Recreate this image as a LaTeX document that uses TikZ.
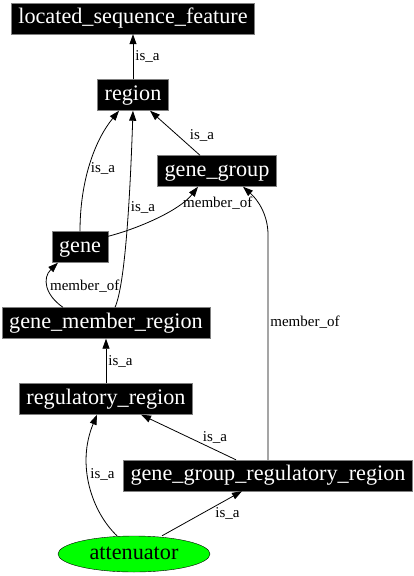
\documentclass[tikz,border=0pt]{standalone}
\usepackage{fontspec}
\setmainfont{Liberation Serif}
\usetikzlibrary{arrows.meta,shapes.geometric}

\begin{document}
\begin{tikzpicture}[x=1pt,y=-1pt,
  term/.style={fill=black,draw=gray,text=white,font=\fontsize{22.2}{25}\selectfont,
    inner xsep=7pt,inner ysep=0pt,minimum height=31pt,text height=15pt,text depth=5pt},
  rel/.style={draw=black,line width=0.8pt,-{Triangle[length=10pt,width=7pt]}},
  lbl/.style={font=\fontsize{15}{17}\selectfont,inner sep=2pt}]
\useasboundingbox (0,0) rectangle (414,576);

\node[term] (lsf) at (133,18.5) {located\_sequence\_feature};
\node[term] (region) at (133,95) {region};
\node[term] (genegroup) at (217,171) {gene\_group};
\node[term] (gene) at (80,247) {gene};
\node[term] (gmr) at (106,323) {gene\_member\_region};
\node[term] (rr) at (106,399) {regulatory\_region};
\node[term] (ggrr) at (268,475.5) {gene\_group\_regulatory\_region};
\node[ellipse,draw=black,fill=green,minimum width=152pt,minimum height=36pt,inner sep=0pt,
  font=\fontsize{22.2}{25}\selectfont,text height=15pt,text depth=5pt] (attenuator) at (134,554) {attenuator};

\draw[rel] (region) -- node[lbl,right] {is\_a} (lsf);
\draw[rel] (gene.north) .. controls (80,180) and (95,140) .. node[lbl,pos=0.45,right] {is\_a} ([xshift=-14pt]region.south);
\draw[rel] ([xshift=9pt]gmr.north) .. controls (125,285) and (130,200) .. node[lbl,pos=0.62,right] {is\_a} (region.south);
\draw[rel] ([xshift=-17pt]genegroup.north) -- node[lbl,pos=0.45,right,xshift=10pt] {is\_a} ([xshift=17pt]region.south);
\draw[rel] ([yshift=-5pt]gene.north east) .. controls (140,228) and (180,210) .. node[lbl,pos=0.75,anchor=west] {member\_of} ([xshift=-19pt]genegroup.south);
\draw[rel] (ggrr.north) -- node[lbl,pos=0.61,right] {member\_of} ++(0,-225) .. controls ++(0,-20) and (258,200) .. ([xshift=26pt]genegroup.south);
\draw[rel] ([xshift=-43pt]gmr.north) .. controls (45,295) and (42,278) .. node[lbl,pos=0.5,right] {member\_of} ([xshift=-22pt]gene.south);
\draw[rel] (rr) -- node[lbl,right] {is\_a} (gmr);
\draw[rel] ([xshift=-32pt]ggrr.north) -- node[lbl,midway,right,xshift=12pt] {is\_a} ([xshift=35pt]rr.south);
\draw[rel] ([xshift=-17pt]attenuator.north) .. controls (92,512) and (76,465) .. node[lbl,pos=0.58,right] {is\_a} ([xshift=-9pt]rr.south);
\draw[rel] ([xshift=28pt]attenuator.north) -- node[lbl,midway,anchor=west,xshift=11pt] {is\_a} ([xshift=-26pt]ggrr.south);
\end{tikzpicture}
\end{document}
